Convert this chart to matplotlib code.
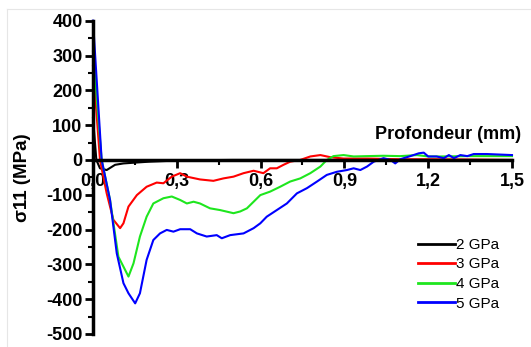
import matplotlib
matplotlib.use("Agg")
import matplotlib.pyplot as plt
from matplotlib.lines import Line2D
from matplotlib.ticker import MultipleLocator, FuncFormatter

plt.rcParams["font.family"] = ["Liberation Sans", "DejaVu Sans"]

# ---- data (depth in mm, stress in MPa) ----
x_2gpa = [0.0, 0.012, 0.025, 0.049, 0.079, 0.109, 0.145, 0.2, 0.26, 0.35, 0.5, 0.8, 1.1, 1.5]
y_2gpa = [120, 0, -24, -29, -14, -10, -8, -5, -3, -1, 0, 0, 0, 0]

x_3gpa = [0.0, 0.025, 0.049, 0.073, 0.097, 0.109, 0.127, 0.157, 0.192, 0.228, 0.252, 0.282,
          0.312, 0.336, 0.383, 0.431, 0.467, 0.503, 0.539, 0.575, 0.61, 0.634, 0.658, 0.682,
          0.706, 0.742, 0.778, 0.814, 0.849, 0.897, 0.981, 1.1, 1.22, 1.5]
y_3gpa = [270, 0, -96, -172, -196, -182, -134, -101, -77, -65, -67, -48,
          -38, -48, -56, -60, -53, -48, -38, -31, -38, -24, -24, -14,
          -5, 0, 10, 14, 8, 4, 4, 2, 2, 0]

x_4gpa = [0.0, 0.031, 0.061, 0.091, 0.127, 0.145, 0.168, 0.192, 0.216, 0.252, 0.282, 0.312,
          0.336, 0.36, 0.383, 0.419, 0.455, 0.503, 0.527, 0.551, 0.575, 0.599, 0.634, 0.67,
          0.706, 0.742, 0.778, 0.814, 0.837, 0.861, 0.897, 0.933, 0.981, 1.04, 1.1, 1.16,
          1.2, 1.244, 1.34, 1.5]
y_4gpa = [311, 0, -115, -278, -335, -297, -220, -163, -125, -110, -105, -115,
          -125, -120, -125, -139, -144, -153, -148, -139, -120, -101, -91, -77,
          -62, -53, -38, -19, 0, 11, 14, 10, 11, 12, 11, 14,
          10, 10, 11, 11]

x_5gpa = [0.0, 0.031, 0.061, 0.085, 0.109, 0.127, 0.151, 0.168, 0.192, 0.216, 0.24, 0.264,
          0.288, 0.312, 0.348, 0.372, 0.407, 0.443, 0.461, 0.491, 0.539, 0.575, 0.599, 0.622,
          0.658, 0.694, 0.73, 0.766, 0.802, 0.837, 0.873, 0.909, 0.933, 0.957, 0.981, 1.005,
          1.04, 1.065, 1.082, 1.1, 1.136, 1.166, 1.184, 1.2, 1.23, 1.256, 1.274, 1.292,
          1.315, 1.34, 1.363, 1.41, 1.5]
y_5gpa = [400, 0, -115, -268, -354, -383, -412, -383, -287, -230, -211, -201,
          -206, -199, -199, -211, -220, -216, -225, -216, -211, -196, -182, -163,
          -144, -125, -96, -81, -62, -43, -34, -29, -24, -29, -19, -5,
          5, 0, -10, 2, 11, 19, 21, 10, 10, 5, 14, 5,
          14, 11, 17, 17, 14]

series = [
    (x_2gpa, y_2gpa, "2 GPa", "#000000"),
    (x_3gpa, y_3gpa, "3 GPa", "#ff0000"),
    (x_4gpa, y_4gpa, "4 GPa", "#1ee61e"),
    (x_5gpa, y_5gpa, "5 GPa", "#0000ff"),
]

fig = plt.figure(figsize=(5.31, 3.47), dpi=100)
ax = fig.add_axes([93 / 531, 1 - 334 / 347, (512 - 93) / 531, (334 - 20.7) / 347])

for xs, ys, lab, col in series:
    ax.plot(xs, ys, color=col, lw=1.5, label=lab, clip_on=False, zorder=2)

ax.set_xlim(0, 1.5)
ax.set_ylim(-500, 400)

ax.spines["top"].set_visible(False)
ax.spines["right"].set_visible(False)
ax.spines["bottom"].set_position(("data", 0))
ax.spines["left"].set_position(("data", 0))
for s in ("bottom", "left"):
    ax.spines[s].set_linewidth(2.5)
    ax.spines[s].set_zorder(3)

ax.xaxis.set_major_locator(MultipleLocator(0.3))
ax.xaxis.set_minor_locator(MultipleLocator(0.15))
ax.yaxis.set_major_locator(MultipleLocator(100))
ax.yaxis.set_minor_locator(MultipleLocator(50))
ax.xaxis.set_major_formatter(FuncFormatter(lambda v, p: f"{v:.1f}".replace(".", ",")))
ax.yaxis.set_major_formatter(FuncFormatter(lambda v, p: f"{int(round(v))}"))

ax.tick_params(axis="both", which="major", direction="out", length=6, width=2,
               labelsize=13, pad=1.5)
ax.tick_params(axis="both", which="minor", direction="out", length=3.5, width=1.5)
ax.tick_params(axis="x", which="major", pad=3.5)
for t in ax.get_xticklabels() + ax.get_yticklabels():
    t.set_fontweight("bold")

fig.text(23 / 531, 1 - 178 / 347, "σ11 (MPa)", rotation=90, ha="center", va="center",
         fontsize=13.5, fontweight="bold")
fig.text(521 / 531, 1 - 135 / 347, "Profondeur (mm)", ha="right", va="center",
         fontsize=13, fontweight="bold")

leg = ax.legend(loc="upper left", bbox_to_anchor=(418 / 531, 1 - 238 / 347),
                bbox_transform=fig.transFigure, frameon=False, fontsize=11,
                handlelength=2.4, handletextpad=0.12, labelspacing=0.36, borderpad=0,
                borderaxespad=0)
for h in leg.get_lines():
    h.set_linewidth(2)

# light frame of the original figure
fig.add_artist(Line2D([7 / 531, 7 / 531], [0, 1 - 9 / 347], transform=fig.transFigure,
                      color="#e6e6e6", lw=0.8))
fig.add_artist(Line2D([7 / 531, 1], [1 - 9 / 347, 1 - 9 / 347], transform=fig.transFigure,
                      color="#e6e6e6", lw=0.8))

fig.savefig("out.png", dpi=100)
